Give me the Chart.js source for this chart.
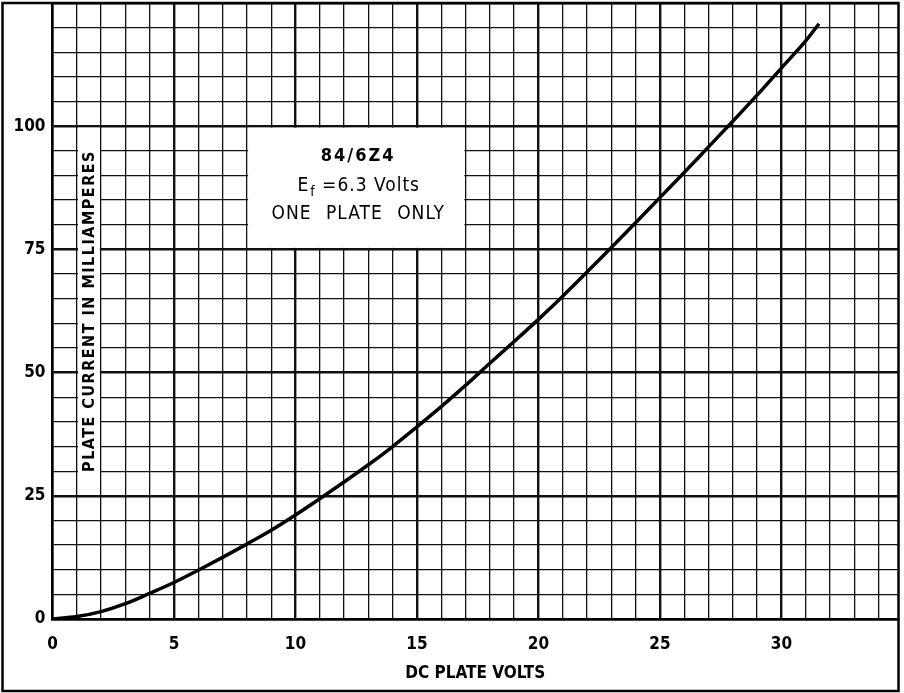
<!DOCTYPE html>
<html>
<head>
<meta charset="utf-8">
<script src="https://cdn.jsdelivr.net/npm/chart.js@4.4.1/dist/chart.umd.min.js"></script>
<style>
  html, body { margin: 0; padding: 0; background: #fff; }
  #wrap { width: 904px; height: 693px; }
</style>
</head>
<body>
<div id="wrap"><canvas id="plateChart" width="904" height="693"></canvas></div>
<script>
// plate characteristic
const plateVolts = [0, 1, 2, 3, 4, 5, 6, 7, 8, 9, 10, 11, 12, 13, 14, 15, 16,
    17, 18, 19, 20, 21, 22, 23, 24, 25, 26, 27, 28, 29, 30, 31, 31.55];
const plateCurrent = [0, 0.5, 1.5, 3.1, 5.2, 7.4, 9.9, 12.5, 15.2, 18.0, 21.1, 24.4, 27.8, 31.3, 35.0, 39.0, 43.1,
    47.4, 51.9, 56.3, 60.8, 65.5, 70.4, 75.4, 80.4, 85.5, 90.6, 95.8, 101.0, 106.3, 111.8, 117.3, 120.8];

const xTickLabels = [0, 5, 10, 15, 20, 25, 30];
const yTickLabels = [0, 25, 50, 75, 100];

const tubeName = '84/6Z4';
const filamentText = ' =6.3 Volts';
const plateNote = 'ONE PLATE ONLY';
const xTitle = 'DC PLATE VOLTS';
const yTitle = 'PLATE CURRENT IN MILLIAMPERES';

const FONT = '"DejaVu Sans Condensed", "Liberation Sans Narrow", "Roboto Condensed", "DejaVu Sans", sans-serif';

const overlay = {
    id: 'overlay',
    beforeDatasetsDraw(chart) {
        const { ctx, scales: { x, y } } = chart;
        const px = v => x.getPixelForValue(v);
        const py = v => y.getPixelForValue(v);

        ctx.save();
        ctx.fillStyle = '#fff';
        // white strip for the y title and the label box
        ctx.fillRect(px(1) + 1.2, py(100) + 1.5, px(2) - px(1) - 2.4, py(25) - py(100) - 3);
        ctx.fillRect(px(8) + 1.2, py(100) + 1.5, px(17) - px(8) - 2.4, py(75) - py(100) - 3);

        ctx.fillStyle = '#000';
        ctx.textAlign = 'center';
        ctx.textBaseline = 'middle';

        // y title, rotated
        ctx.save();
        ctx.translate((px(1) + px(2)) / 2 + 1, (py(25) + py(100)) / 2);
        ctx.rotate(-Math.PI / 2);
        ctx.font = 'bold 16px ' + FONT;
        ctx.letterSpacing = '1.5px';
        ctx.fillText(yTitle, 0, 0);
        ctx.restore();

        const cx = (px(8) + px(17)) / 2 + 2;
        const top = py(100);

        ctx.font = 'bold 18px ' + FONT;
        ctx.letterSpacing = '2px';
        ctx.fillText(tubeName, cx, top + 30);

        // E with subscript f
        ctx.letterSpacing = '1px';
        ctx.font = '19px ' + FONT;
        const wE = ctx.measureText('E').width;
        const wRest = ctx.measureText(filamentText).width;
        ctx.font = '14px ' + FONT;
        const wF = ctx.measureText('f').width;
        let sx = cx - (wE + wF + wRest) / 2;
        ctx.textAlign = 'left';
        ctx.font = '19px ' + FONT;
        ctx.fillText('E', sx, top + 60);
        ctx.font = '14px ' + FONT;
        ctx.fillText('f', sx + wE + 1, top + 66);
        ctx.font = '19px ' + FONT;
        ctx.fillText(filamentText, sx + wE + wF + 1, top + 60);

        ctx.textAlign = 'center';
        ctx.wordSpacing = '8px';
        ctx.fillText(plateNote, cx, top + 88);
        ctx.restore();
    },
    afterDraw(chart) {
        const ctx = chart.ctx;
        ctx.save();
        ctx.strokeStyle = '#000';
        ctx.lineWidth = 2.5;
        ctx.strokeRect(2.5, 3, 896, 688);
        ctx.restore();
    }
};

const ctx = document.getElementById('plateChart').getContext('2d');

new Chart(ctx, {
    type: 'scatter',
    data: {
        datasets: [{
            label: tubeName,
            data: plateVolts.map((v, i) => ({ x: v, y: plateCurrent[i] })),
            showLine: true,
            borderColor: '#000',
            borderWidth: 3.5,
            pointRadius: 0,
            cubicInterpolationMode: 'monotone',
            fill: false
        }]
    },
    options: {
        responsive: false,
        animation: false,
        layout: { padding: { left: 2, top: 3, right: 6, bottom: 3 } },
        plugins: {
            legend: { display: false },
            tooltip: { enabled: false }
        },
        scales: {
            x: {
                type: 'linear',
                min: 0,
                max: 34.8,
                afterFit: s => {
                    s.height = 71;
                    s.paddingLeft = 0;
                    s.paddingRight = 0;
                },
                border: { display: true, color: '#000', width: 2.5 },
                grid: {
                    drawTicks: false,
                    color: '#111',
                    lineWidth: c => (c.tick && c.tick.value % 5 === 0 ? 2.4 : 1.3)
                },
                ticks: {
                    stepSize: 1,
                    includeBounds: false,
                    autoSkip: false,
                    maxRotation: 0,
                    padding: 15,
                    color: '#000',
                    font: { family: FONT, size: 17, weight: 'bold' },
                    callback: v => (xTickLabels.includes(v) ? String(v) : '')
                },
                title: {
                    display: true,
                    text: xTitle,
                    color: '#000',
                    font: { family: FONT, size: 17, weight: 'bold' },
                    padding: { top: 0, bottom: 6 }
                }
            },
            y: {
                type: 'linear',
                min: 0,
                max: 125,
                afterFit: s => {
                    s.width = 50.5;
                    s.paddingTop = 0;
                    s.paddingBottom = 0;
                },
                border: { display: true, color: '#000', width: 2.5 },
                grid: {
                    drawTicks: false,
                    color: '#111',
                    lineWidth: c => (c.tick && c.tick.value % 25 === 0 ? 2.4 : 1.3)
                },
                ticks: {
                    stepSize: 5,
                    autoSkip: false,
                    padding: 7,
                    color: '#000',
                    font: { family: FONT, size: 17, weight: 'bold' },
                    callback: v => (yTickLabels.includes(v) ? String(v) : '')
                }
            }
        }
    },
    plugins: [overlay]
});
</script>
</body>
</html>
